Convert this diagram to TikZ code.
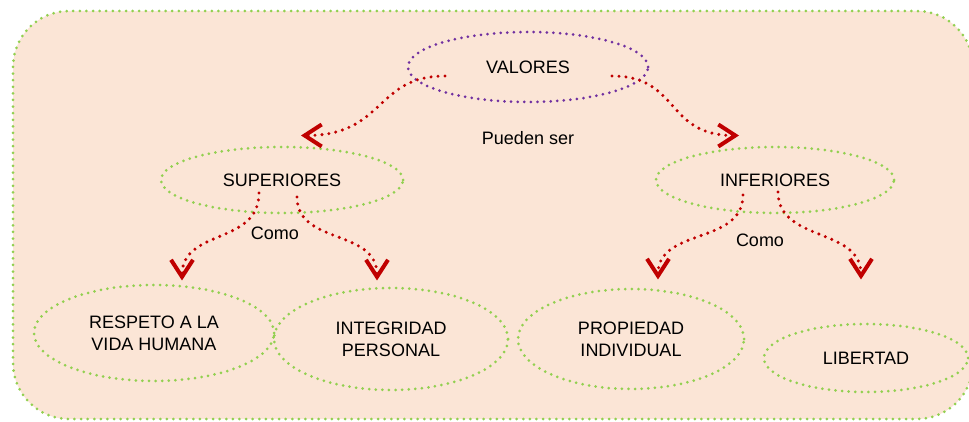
\documentclass[tikz,border=0pt]{standalone}
\usepackage{fontspec}
\setmainfont{Liberation Sans}
\usetikzlibrary{arrows.meta,shapes.geometric,calc}

\definecolor{peach}{HTML}{FBE5D6}
\definecolor{leafgreen}{HTML}{92D050}
\definecolor{darkred}{HTML}{C00000}
\definecolor{valpurple}{HTML}{7030A0}

\begin{document}
\begin{tikzpicture}[
    x=0.5pt, y=-0.5pt,
    oval/.style={ellipse, draw=leafgreen, line width=1.5pt, dash pattern=on 0pt off 3.3pt, line cap=round, inner sep=0pt, font=\fontsize{9}{11}\selectfont, align=center},
    link/.style={-{Straight Barb[length=8.5pt,width=11pt,line width=2pt]}, draw=darkred, line width=1.7pt, dash pattern=on 0pt off 3.5pt, line cap=round},
    lbl/.style={font=\fontsize{9}{11}\selectfont}
]

\clip (0,0) rectangle (969,422);
\draw[fill=peach, draw=leafgreen, line width=1.5pt, dash pattern=on 0pt off 3.3pt, line cap=round, rounded corners=28pt] (13,11) rectangle (973,419);

\node[oval, draw=valpurple, minimum width=120pt, minimum height=35pt] (valores) at (528,67) {VALORES};
\node[oval, minimum width=121pt, minimum height=33pt] (superiores) at (282,180) {SUPERIORES};
\node[oval, minimum width=119pt, minimum height=33pt] (inferiores) at (775,180) {INFERIORES};
\node[oval, minimum width=120pt, minimum height=48pt] (respeto) at (154,333) {RESPETO A LA\\VIDA HUMANA};
\node[oval, minimum width=117pt, minimum height=51pt] (integridad) at (391,339) {INTEGRIDAD\\PERSONAL};
\node[oval, minimum width=113pt, minimum height=50pt] (propiedad) at (631,339) {PROPIEDAD\\INDIVIDUAL};
\node[oval, minimum width=102pt, minimum height=34pt] (libertad) at (866,358) {LIBERTAD};

\node[lbl] (pueden) at (528,138) {Pueden ser};
\node[lbl] (como1) at (275,233) {Como};
\node[lbl] (como2) at (760,240) {Como};

% valores -> superiores / inferiores
\draw[link] ($(valores)+(-83,9)$) .. controls +(-70,0) and +(84,0) .. ($(superiores.north)+(19,-10)$);
\draw[link] ($(valores)+(84,9)$) .. controls +(68,0) and +(-74,0) .. ($(inferiores.north)+(-36,-10)$);

% superiores -> ejemplos
\draw[link] ($(superiores)+(-23,13)$) .. controls +(0,52) and +(0,-52) .. ($(respeto.north)+(28,-3)$);
\draw[link] ($(superiores)+(15,17)$) .. controls +(0,48) and +(0,-52) .. ($(integridad.north)+(-14,-6)$);

% inferiores -> ejemplos
\draw[link] ($(inferiores)+(-32,15)$) .. controls +(0,50) and +(0,-52) .. ($(propiedad.north)+(27,-8)$);
\draw[link] ($(inferiores)+(3,12)$) .. controls +(0,50) and +(0,-52) .. ($(libertad.north)+(-5,-43)$);

\end{tikzpicture}
\end{document}
